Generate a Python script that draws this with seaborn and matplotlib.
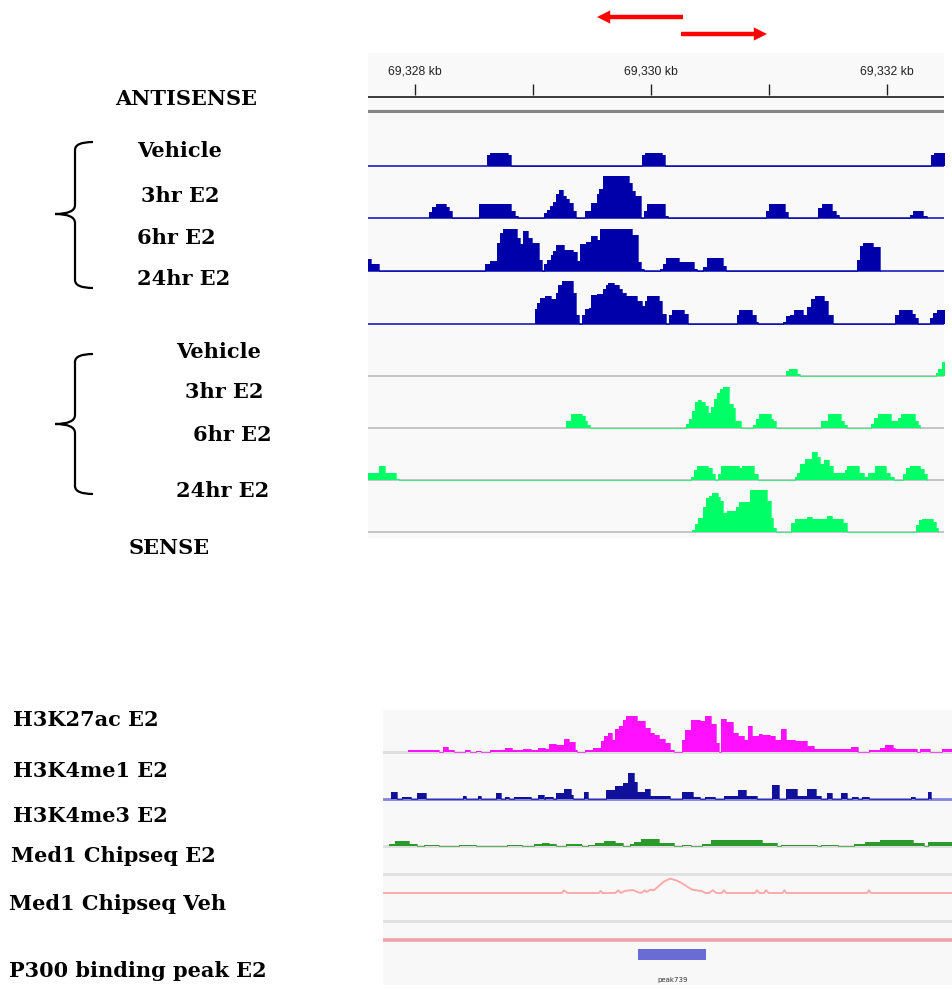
import matplotlib
matplotlib.use("Agg")
import matplotlib.pyplot as plt
import seaborn as sns
import pandas as pd
from matplotlib.path import Path
from matplotlib.patches import PathPatch, FancyArrowPatch

# ---------------- data (positions in kb relative to 69,328 kb; signal in track units) ----------------
BASE_KB = 69328
RULER_TICKS = [0, 1, 2, 3, 4]
RULER_LABELED = [0, 2, 4]
TOP_XLIM = (-0.398, 4.483)
BOTTOM_XLIM = (-0.407, 4.415)

# step tracks: (start position, height) - height holds until next start
AS_VEH = [(0.614, 11), (0.637, 13.3), (0.791, 11), (0.814, 0),
          (1.926, 11), (1.948, 13.3), (2.092, 11), (2.118, 0),
          (4.370, 11), (4.395, 13.3), (4.49, 0)]
AS_3HR = [(0.119, 6), (0.142, 11.7), (0.174, 14), (0.263, 11.7), (0.288, 7.3), (0.318, 0),
          (0.542, 14), (0.814, 7.3), (0.845, 2.3), (0.877, 0),
          (1.095, 5), (1.117, 8.3), (1.142, 12.3), (1.168, 16.7), (1.191, 24), (1.219, 28),
          (1.254, 22.3), (1.280, 19), (1.308, 15), (1.335, 7.3), (1.363, 0),
          (1.440, 7.3), (1.494, 15), (1.539, 24), (1.561, 29), (1.590, 42.7), (1.814, 35),
          (1.836, 27.7), (1.865, 22.7), (1.916, 0),
          (1.942, 7.3), (1.970, 14), (2.118, 2.3), (2.140, 0),
          (2.972, 7.3), (3.003, 14), (3.138, 6.7), (3.164, 0),
          (3.419, 10.7), (3.452, 14), (3.531, 7.3), (3.564, 3.3), (3.589, 0),
          (4.193, 3.3), (4.219, 7.3), (4.305, 2.3), (4.341, 0)]
AS_6HR = [(-0.45, 12.3), (-0.376, 6.7), (-0.306, 0),
          (0.596, 6.7), (0.637, 10), (0.695, 28), (0.717, 38), (0.742, 42.3), (0.861, 33.3),
          (0.893, 26.7), (0.919, 39.7), (0.957, 33.3), (0.989, 28), (1.053, 11.3), (1.079, 0),
          (1.092, 6.7), (1.117, 11.3), (1.149, 15.7), (1.171, 20), (1.197, 25.7), (1.261, 21.3),
          (1.341, 19), (1.373, 10), (1.395, 26.7), (1.453, 29), (1.491, 34.7), (1.539, 31.3),
          (1.571, 42.3), (1.836, 35.7), (1.891, 9), (1.916, 2.3), (1.939, 0),
          (2.076, 2.3), (2.102, 6.7), (2.125, 13.3), (2.236, 9), (2.364, 2.3), (2.390, 0),
          (2.437, 4), (2.476, 13.3), (2.610, 4.7), (2.636, 0),
          (3.749, 11.3), (3.771, 24.7), (3.797, 28), (3.883, 24), (3.941, 0)]
AS_24HR = [(1.014, 14.3), (1.037, 21), (1.063, 25.3), (1.101, 27.7), (1.149, 24.3), (1.191, 31),
           (1.213, 38.7), (1.245, 42.3), (1.341, 31), (1.363, 8.7), (1.389, 0), (1.414, 8.7),
           (1.443, 14.3), (1.475, 16), (1.494, 28.7), (1.539, 29.3), (1.590, 34.3), (1.619, 38.7),
           (1.638, 40.7), (1.683, 38.7), (1.725, 34.3), (1.757, 31), (1.788, 27.7), (1.885, 22.7),
           (1.926, 17.7), (1.948, 22.7), (1.970, 27.7), (2.067, 22.7), (2.092, 9.3), (2.125, 0),
           (2.150, 8.7), (2.182, 13.3), (2.284, 9.3), (2.316, 0),
           (2.725, 8.7), (2.747, 13.3), (2.860, 8.7), (2.886, 2), (2.908, 0),
           (3.122, 2), (3.147, 7.7), (3.180, 8.7), (3.212, 13.3), (3.292, 8.7), (3.324, 16.7),
           (3.355, 24.3), (3.387, 27.7), (3.468, 22.7), (3.499, 8.7), (3.541, 0),
           (4.065, 8.7), (4.101, 13.3), (4.209, 10), (4.235, 5.3), (4.260, 0),
           (4.363, 6), (4.388, 11), (4.420, 13.3), (4.49, 0)]
SE_VEH = [(3.142, 5), (3.169, 6.7), (3.237, 1.7), (3.259, 0),
          (4.417, 2.3), (4.436, 6.7), (4.465, 13.3), (4.49, 0)]
SE_3HR = [(1.277, 7), (1.319, 13.7), (1.414, 11.7), (1.443, 7), (1.462, 2.7), (1.485, 0),
          (2.300, 4.3), (2.323, 9.3), (2.348, 16.7), (2.370, 26), (2.396, 28.3), (2.428, 26),
          (2.460, 21.7), (2.482, 15), (2.508, 21), (2.534, 29.3), (2.556, 35), (2.588, 39.3),
          (2.610, 41), (2.662, 23.7), (2.691, 20.3), (2.709, 7), (2.764, 0),
          (2.866, 2.7), (2.892, 9.3), (2.917, 13.7), (3.014, 9.3), (3.036, 7), (3.061, 0),
          (3.442, 7), (3.499, 13.7), (3.614, 7), (3.637, 2.7), (3.659, 0),
          (3.867, 4.3), (3.892, 10.3), (3.925, 13.7), (4.036, 7), (4.091, 10.3), (4.117, 13.7),
          (4.235, 7), (4.260, 2.7), (4.283, 0)]
SE_6HR = [(-0.45, 7), (-0.306, 13.7), (-0.258, 7), (-0.163, 1.3), (-0.136, 0),
          (2.342, 3), (2.364, 9.7), (2.390, 13.7), (2.482, 12.3), (2.514, 6.3), (2.540, 0),
          (2.565, 6.3), (2.594, 13.7), (2.742, 12.3), (2.770, 13.7), (2.869, 6.3), (2.908, 0),
          (3.218, 3), (3.237, 7), (3.259, 16.3), (3.301, 21.3), (3.365, 28), (3.410, 23),
          (3.436, 16.3), (3.468, 19.7), (3.509, 13.7), (3.541, 7), (3.643, 10.3), (3.665, 13.7),
          (3.764, 7), (3.803, 3), (3.835, 7), (3.899, 13.7), (3.995, 7), (4.027, 3), (4.059, 0),
          (4.139, 6.3), (4.164, 12.3), (4.197, 13.7), (4.283, 11.3), (4.315, 5.7), (4.341, 0)]
SE_24HR = [(2.348, 2), (2.370, 7.7), (2.396, 13.7), (2.437, 25.3), (2.469, 33.7), (2.492, 36),
           (2.518, 38.7), (2.565, 35.3), (2.588, 31.3), (2.614, 18.7), (2.642, 21.3), (2.722, 25.3),
           (2.747, 30.3), (2.837, 42), (2.987, 31.3), (3.014, 13.7), (3.036, 4.3), (3.061, 0),
           (3.189, 8.7), (3.221, 13), (3.324, 15.3), (3.365, 13), (3.493, 16), (3.531, 13),
           (3.627, 8.7), (3.659, 0),
           (4.242, 7), (4.267, 12), (4.299, 13), (4.388, 10.3), (4.411, 4.3), (4.436, 0)]

H3K27AC = [(-0.198, 1.8), (0.066, 0), (0.098, 4.7), (0.144, 1.7), (0.191, 0), (0.285, 2), (0.331, 0),
           (0.378, 1.3), (0.425, 0), (0.503, 2.3), (0.627, 4), (0.689, 2.3), (0.783, 3), (0.845, 2.3),
           (0.908, 4), (0.970, 3), (1.001, 8), (1.063, 7.3), (1.126, 13), (1.172, 9.7), (1.219, 2.3),
           (1.241, 0), (1.303, 2.3), (1.375, 4), (1.437, 10.7), (1.468, 16.3), (1.499, 19),
           (1.531, 12.3), (1.562, 23), (1.593, 25.7), (1.624, 32.3), (1.655, 36.3), (1.749, 30.7),
           (1.786, 30.7), (1.817, 24), (1.858, 19), (1.889, 17.3), (1.936, 13), (1.982, 9),
           (2.029, 2.3), (2.060, 0), (2.123, 12.3), (2.154, 22.3), (2.200, 31.7), (2.232, 32.3),
           (2.278, 30.7), (2.325, 35.7), (2.372, 28.3), (2.418, 9), (2.440, 0), (2.456, 33),
           (2.496, 29.7), (2.559, 19), (2.605, 15.7), (2.652, 12.3), (2.683, 25.7), (2.721, 15.7),
           (2.777, 18), (2.808, 17.3), (2.870, 16.3), (2.917, 12.3), (2.964, 23), (3.010, 12.3),
           (3.088, 10.7), (3.182, 5.7), (3.244, 3), (3.556, 5), (3.618, 0), (3.711, 2.5),
           (3.805, 4), (3.851, 7), (3.914, 4), (3.929, 3), (4.116, 0), (4.147, 3), (4.225, 0),
           (4.334, 3), (4.45, 0)]
H3K4ME1 = [(-0.339, 7.3), (-0.292, 0), (-0.245, 2.3), (-0.167, 0), (-0.120, 6.3), (-0.043, 0),
           (0.269, 3), (0.300, 0), (0.394, 3), (0.425, 0), (0.549, 5.7), (0.596, 0), (0.627, 2.3),
           (0.658, 0), (0.705, 2.3), (0.845, 0), (0.908, 4), (0.954, 0), (0.970, 2.3), (1.032, 0),
           (1.063, 6.3), (1.126, 9.7), (1.188, 4), (1.204, 0), (1.297, 7.3), (1.328, 0),
           (1.484, 9), (1.562, 13), (1.624, 15.7), (1.671, 26.3), (1.718, 17.3), (1.749, 7.3),
           (1.811, 9.7), (1.858, 3), (2.029, 0), (2.123, 7.3), (2.216, 2.3), (2.278, 0),
           (2.325, 2.3), (2.403, 0), (2.481, 3), (2.605, 9), (2.668, 3), (2.761, 0), (2.886, 14),
           (2.948, 0), (3.010, 9.7), (3.104, 3), (3.182, 9.7), (3.260, 3), (3.306, 0), (3.353, 5.7),
           (3.400, 0), (3.478, 6.3), (3.524, 0), (3.571, 2.3), (3.618, 0), (3.649, 2.3), (3.711, 0),
           (4.070, 2.3), (4.101, 0), (4.210, 7.3), (4.241, 0)]
H3K4ME3 = [(-0.354, 1.7), (-0.307, 4.7), (-0.183, 1.7), (-0.120, 0), (-0.058, 1), (0.066, 0),
           (0.238, 1), (0.378, 0), (0.643, 1), (0.767, 0), (0.876, 1.7), (0.939, 3), (1.001, 1.7),
           (1.063, 0), (1.141, 1.5), (1.281, 0), (1.328, 1), (1.390, 3.3), (1.468, 4.7), (1.562, 3.3),
           (1.624, 0), (1.686, 1.5), (1.718, 4), (1.780, 6.7), (1.936, 3), (2.060, 0), (2.123, 1),
           (2.200, 0), (2.294, 1.7), (2.372, 5.7), (2.683, 6.3), (2.808, 3), (2.932, 0), (2.964, 1.3),
           (3.275, 0), (3.306, 1), (3.446, 0), (3.587, 2.3), (3.680, 4), (3.805, 6.3), (4.085, 3),
           (4.179, 0), (4.210, 4), (4.428, 0)]
# line trace (position, value)
MED1_TRACE = [(-0.41, 0), (1.110, 0), (1.126, 2.7), (1.157, 0), (1.422, 0), (1.437, 2), (1.453, 0),
              (1.562, 0), (1.587, 2.7), (1.609, 0), (1.640, 2), (1.686, 2.7), (1.718, 2.7), (1.749, 1),
              (1.780, 0), (1.811, 2.7), (1.827, 1), (1.858, 3.3), (1.889, 2.7), (1.920, 6), (1.951, 9.3),
              (1.982, 12), (2.007, 13.3), (2.029, 14.3), (2.060, 13.3), (2.091, 12), (2.123, 10),
              (2.154, 7.7), (2.185, 5.3), (2.216, 3.3), (2.247, 2.7), (2.294, 2), (2.325, 0), (2.356, 0),
              (2.387, 2.7), (2.418, 0), (2.465, 0), (2.481, 2.7), (2.503, 0), (2.746, 0), (2.761, 2.7),
              (2.783, 0), (2.823, 0), (2.839, 2.7), (2.861, 0), (2.979, 0), (2.995, 2.7), (3.010, 0),
              (3.696, 0), (3.711, 2.7), (3.727, 0), (4.42, 0)]
PEAK_NAME = "peak739"
PEAK_START, PEAK_END = 1.758, 2.334

TOP_LABELS = ["ANTISENSE", "Vehicle", "3hr E2", "6hr E2", "24hr E2",
              "Vehicle", "3hr E2", "6hr E2", "24hr E2", "SENSE"]
BOTTOM_LABELS = ["H3K27ac E2", "H3K4me1 E2", "H3K4me3 E2", "Med1 Chipseq E2",
                 "Med1 Chipseq Veh", "P300 binding peak E2"]

# ---------------- style / layout ----------------
sns.set_theme(style="white")
plt.rcParams["font.family"] = ["DejaVu Sans"]

W, H = 953, 990
fig = plt.figure(figsize=(W / 100, H / 100), dpi=100)
fig.patch.set_facecolor("white")


def box(x0, y0, x1, y1):
    return [x0 / W, 1 - y1 / H, (x1 - x0) / W, (y1 - y0) / H]


def blank(ax, face="none"):
    ax.set_facecolor(face)
    ax.set_xticks([])
    ax.set_yticks([])
    for s in ax.spines.values():
        s.set_visible(False)


def step_track(ax, pairs, color):
    df = pd.DataFrame(pairs, columns=["pos", "signal"])
    ax.fill_between(df["pos"], df["signal"], step="post", color=color, lw=0)
    sns.lineplot(data=df, x="pos", y="signal", drawstyle="steps-post", color=color,
                 lw=0.5, estimator=None, sort=False, ax=ax, legend=False)
    ax.set_xlabel("")
    ax.set_ylabel("")


# ---- top panel ----
bg = fig.add_axes(box(368, 53, 944, 538))
blank(bg, "#f9f9f9")

ruler = fig.add_axes(box(368, 53, 944, 113))
blank(ruler)
ruler.set_xlim(*TOP_XLIM)
ruler.set_ylim(0, 60)
ruler.axhline(16, color="#3a3a3a", lw=1.4)
ruler.axhline(1.5, color="#858585", lw=3)
ruler.vlines(RULER_TICKS, 18, 29, color="#222222", lw=1.0)
for t in RULER_LABELED:
    ruler.text(t, 41, f"{BASE_KB + t:,} kb", ha="center", va="center",
               fontsize=8.8, color="#222222", family="Liberation Sans")

AS_COLOR, AS_LINE = "#0000aa", "#3b3bc4"
SE_COLOR, SE_LINE = "#00ff66", "#c4c4c4"
top_tracks = [
    (AS_VEH, AS_COLOR, AS_LINE, 113, 166),
    (AS_3HR, AS_COLOR, AS_LINE, 167.5, 218.5),
    (AS_6HR, AS_COLOR, AS_LINE, 219.5, 271),
    (AS_24HR, AS_COLOR, AS_LINE, 272, 323.5),
    (SE_VEH, SE_COLOR, SE_LINE, 325, 375.5),
    (SE_3HR, SE_COLOR, SE_LINE, 377, 428),
    (SE_6HR, SE_COLOR, SE_LINE, 429, 480),
    (SE_24HR, SE_COLOR, SE_LINE, 481, 532),
]
for pairs, col, lcol, top, base in top_tracks:
    ax = fig.add_axes(box(368, top, 944, base + 2))
    blank(ax)
    ax.set_xlim(*TOP_XLIM)
    ax.set_ylim(-2, base - top)
    ax.axhline(0, color=lcol, lw=1.4, zorder=1)
    step_track(ax, pairs, col)
    blank(ax)

# ---- bottom panel ----
bg2 = fig.add_axes(box(383, 710, 952, 985))
blank(bg2, "#f8f8f8")

bottom_tracks = [
    (H3K27AC, "#ff11ff", "#dedede", 710, 752),
    (H3K4ME1, "#10109a", "#8484e0", 753, 799),
    (H3K4ME3, "#2a9a2a", "#dedede", 800, 846),
]
for pairs, col, lcol, top, base in bottom_tracks:
    ax = fig.add_axes(box(383, top, 952, base + 2))
    blank(ax)
    ax.set_xlim(*BOTTOM_XLIM)
    ax.set_ylim(-2, base - top)
    ax.axhline(0, color=lcol, lw=2, zorder=1)
    step_track(ax, pairs, col)
    blank(ax)

# Med1 E2 (empty) track
ax = fig.add_axes(box(383, 848, 952, 876))
blank(ax)
ax.set_xlim(*BOTTOM_XLIM)
ax.set_ylim(-2, 26)
ax.axhline(0, color="#e0e0e0", lw=2)

# Med1 Veh trace
ax = fig.add_axes(box(383, 877, 952, 895))
blank(ax)
ax.set_xlim(*BOTTOM_XLIM)
ax.set_ylim(-2, 16)
med = pd.DataFrame(MED1_TRACE, columns=["pos", "signal"])
sns.lineplot(data=med, x="pos", y="signal", color="#ffaaaa", lw=1.4,
             estimator=None, sort=False, ax=ax, legend=False)
blank(ax)

# separator lines
ax = fig.add_axes(box(383, 896, 952, 942))
blank(ax)
ax.set_xlim(*BOTTOM_XLIM)
ax.set_ylim(0, 46)
ax.axhline(21, color="#e0e0e0", lw=2)
ax.axhline(2, color="#eea2aa", lw=2.6)

# peak feature
ax = fig.add_axes(box(383, 943, 952, 985))
blank(ax)
ax.set_xlim(*BOTTOM_XLIM)
ax.set_ylim(0, 42)
ax.barh(y=[31], width=[PEAK_END - PEAK_START], left=[PEAK_START], height=11,
        color="#6b6bd4", lw=0)
ax.text((PEAK_START + PEAK_END) / 2, 5, PEAK_NAME, ha="center", va="center",
        fontsize=5, color="#333333")
blank(ax)

# ---- labels ----
lab_kw = dict(fontsize=15, fontweight="bold", family="DejaVu Serif", color="black",
              ha="left", va="center")
top_pos = [(115, 99), (137, 151), (141, 196), (137, 238), (137, 279),
           (176, 352), (185, 392), (193, 435), (176, 491), (129, 548)]
for (x, y), s in zip(top_pos, TOP_LABELS):
    fig.text(x / W, 1 - y / H, s, **lab_kw)
bot_pos = [(13, 720), (13, 771), (13, 816), (11, 856), (9, 904), (9, 971)]
for (x, y), s in zip(bot_pos, BOTTOM_LABELS):
    fig.text(x / W, 1 - y / H, s, **lab_kw)


# ---- braces ----
def brace(top, tip, bottom, xv=75, xt=55, xh=93):
    pts = [(xh, top), (xv, top), (xv, top + 8), (xv, tip - 9), (xv, tip), (xt, tip),
           (xv, tip), (xv, tip + 9), (xv, bottom - 8), (xv, bottom), (xh, bottom)]
    codes = [Path.MOVETO, Path.CURVE3, Path.CURVE3, Path.LINETO, Path.CURVE3, Path.CURVE3,
             Path.CURVE3, Path.CURVE3, Path.LINETO, Path.CURVE3, Path.CURVE3]
    verts = [(x / W, 1 - y / H) for x, y in pts]
    fig.add_artist(PathPatch(Path(verts, codes), transform=fig.transFigure,
                             fill=False, lw=1.6, color="black"))


brace(142, 214, 288)
brace(354, 424, 494)

# ---- red arrows ----
for (x0, y0), (x1, y1) in [((683, 17), (597, 17)), ((681, 34), (767, 34))]:
    fig.add_artist(FancyArrowPatch((x0 / W, 1 - y0 / H), (x1 / W, 1 - y1 / H),
                                   transform=fig.transFigure,
                                   arrowstyle="simple,head_length=0.95,head_width=0.95,tail_width=0.32",
                                   mutation_scale=10, color="#ff0000", lw=0,
                                   shrinkA=0, shrinkB=0))

fig.savefig("out.png", dpi=100, facecolor="white")
